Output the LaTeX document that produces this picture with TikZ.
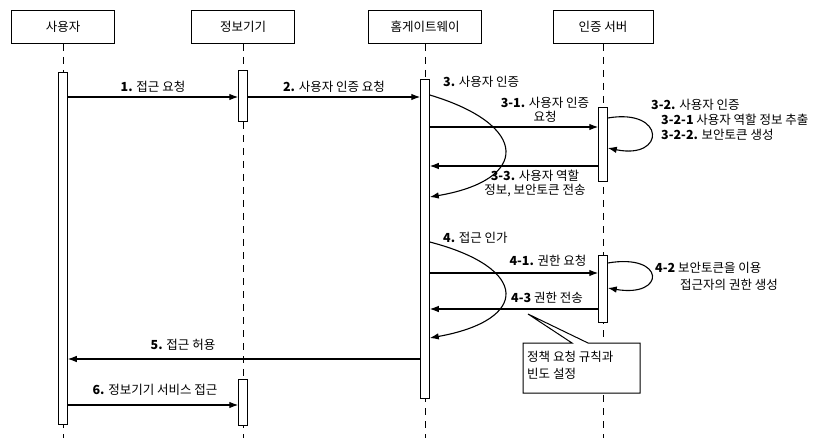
\documentclass[tikz,border=0pt]{standalone}
\usepackage{fontspec}
\setmainfont{Noto Sans CJK KR}
\usetikzlibrary{arrows.meta}

\begin{document}
\begin{tikzpicture}[x=1pt,y=-1pt,
    font=\fontsize{12.5}{14}\selectfont,
    actor/.style={draw,line width=1pt,minimum height=33pt,inner sep=0pt},
    actbar/.style={draw,fill=white,line width=1pt,minimum width=8.5pt,inner sep=0pt},
    life/.style={line width=0.9pt,dash pattern=on 7pt off 6pt},
    msg/.style={line width=1.1pt,-{Latex[length=9pt,width=6.5pt]}},
    lbl/.style={inner sep=1pt,align=center}]
    \useasboundingbox (0,0) rectangle (834,438);
    % 참여자
    \node[actor,minimum width=103pt] (user) at (63,27) {사용자};
    \node[actor,minimum width=103pt] (dev) at (243,27) {정보기기};
    \node[actor,minimum width=113pt] (gw) at (425,27) {홈게이트웨이};
    \node[actor,minimum width=100pt] (srv) at (603,27) {인증 서버};
    % 생명선
    \foreach \a in {user,dev,gw,srv}
        \draw[life] (\a.south) -- (\a.south |- 0,438);
    % 활성 막대
    \node[actbar,minimum height=351pt] (ubar) at (user |- 0,248.5) {};
    \node[actbar,minimum height=51pt] (dbar1) at (dev |- 0,96.5) {};
    \node[actbar,minimum height=46pt] (dbar2) at (dev |- 0,402) {};
    \node[actbar,minimum height=318pt] (gbar) at (gw |- 0,239) {};
    \node[actbar,minimum height=74pt] (sbar1) at (srv |- 0,145) {};
    \node[actbar,minimum height=67pt] (sbar2) at (srv |- 0,288.5) {};
    % 메시지 높이
    \coordinate (y1) at (0,97);
    \coordinate (y31) at (0,127);
    \coordinate (y33) at (0,166);
    \coordinate (y41) at (0,273);
    \coordinate (y43) at (0,309);
    \coordinate (y5) at (0,359);
    \coordinate (y6) at (0,405);
    % 1, 2
    \draw[msg] (ubar.east |- y1) -- node[lbl,above=3pt] {\textbf{1.} 접근 요청} (dbar1.west |- y1);
    \draw[msg] (dbar1.east |- y1) -- node[lbl,above=3pt] {\textbf{2.} 사용자 인증 요청} (gbar.west |- y1);
    % 3. 사용자 인증
    \node[lbl,anchor=west] (l3) at (442,82) {\textbf{3.} 사용자 인증};
    \draw[msg] (gbar.east |- 0,95) .. controls (530,125) and (530,180) .. (gbar.east |- 0,197);
    \draw[msg] (gbar.east |- y31) -- (sbar1.west |- y31);
    \node[lbl] (l31) at (545,110) {\textbf{3-1.} 사용자 인증\\요청};
    \draw[msg] (sbar1.east |- 0,118) .. controls (666,108) and (666,160) .. (sbar1.east |- 0,148);
    \node[lbl,anchor=west] (l32) at (650,105) {\textbf{3-2.} 사용자 인증};
    \node[lbl,anchor=west] (l321) at (660,120) {\textbf{3-2-1} 사용자 역할 정보 추출};
    \node[lbl,anchor=west] (l322) at (660,135) {\textbf{3-2-2.} 보안토큰 생성};
    \draw[msg] (sbar1.west |- y33) -- (gbar.east |- y33);
    \node[lbl] (l33) at (535,183) {\textbf{3-3.} 사용자 역할\\정보, 보안토큰 전송};
    % 4. 접근 인가
    \node[lbl,anchor=west] (l4) at (442,238) {\textbf{4.} 접근 인가};
    \draw[msg] (gbar.east |- 0,242) .. controls (530,268) and (530,320) .. (gbar.east |- 0,338);
    \draw[msg] (gbar.east |- y41) -- (sbar2.west |- y41);
    \node[lbl] (l41) at (548,261) {\textbf{4-1.} 권한 요청};
    \draw[msg] (sbar2.east |- 0,263) .. controls (666,253) and (666,298) .. (sbar2.east |- 0,288);
    \node[lbl,anchor=west] (l42) at (654,268) {\textbf{4-2} 보안토큰을 이용};
    \node[lbl,anchor=west] (l42b) at (679,285) {접근자의 권한 생성};
    \draw[msg] (sbar2.west |- y43) -- (gbar.east |- y43);
    \node[lbl] (l43) at (547,298) {\textbf{4-3} 권한 전송};
    % 메모
    \coordinate (tip) at (528,314);
    \filldraw[fill=white,line width=1pt] (523,343) -- (572,343) -- (tip) -- (588,343)
        -- (640,343) -- (640,393) -- (523,393) -- cycle;
    \node[anchor=north west,align=left,inner sep=0pt] (note) at (527,351)
        {정책 요청 규칙과\\[3pt]빈도 설정};
    % 5, 6
    \draw[msg] (gbar.west |- y5) -- (ubar.east |- y5);
    \node[lbl] (l5) at (183,345) {\textbf{5.} 접근 허용};
    \draw[msg] (ubar.east |- y6) -- (dbar2.west |- y6);
    \node[lbl] (l6) at (155,390) {\textbf{6.} 정보기기 서비스 접근};
\end{tikzpicture}
\end{document}
